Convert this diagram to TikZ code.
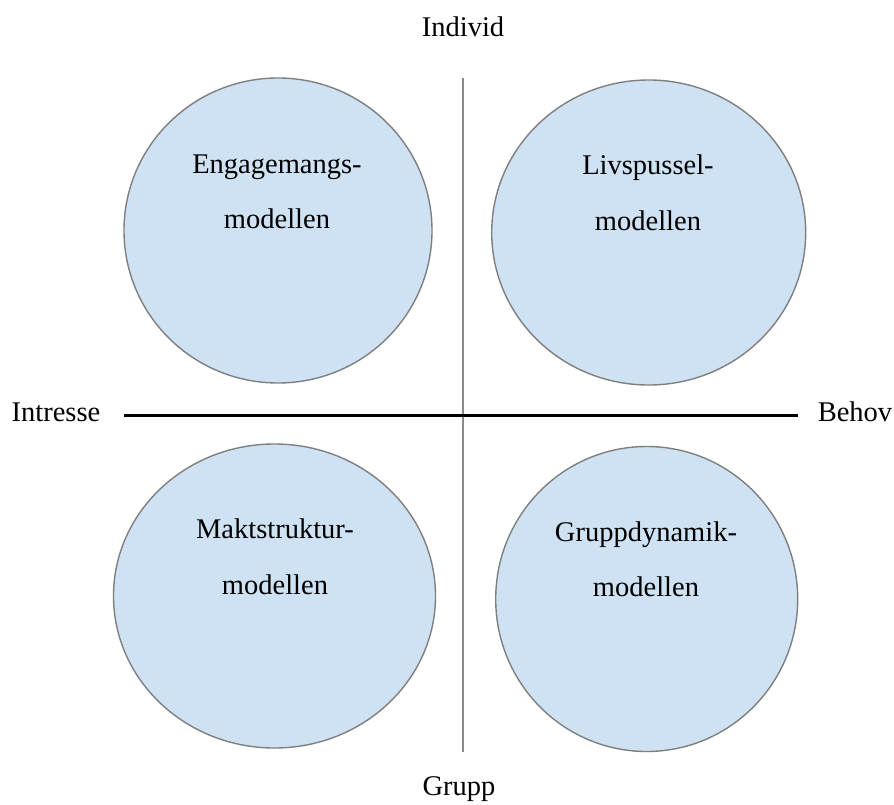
\documentclass[tikz,border=0pt]{standalone}
\usepackage{fontspec}
\setmainfont{LiberationSerif}[Extension=.ttf,UprightFont=*-Regular,BoldFont=*-Bold]
\definecolor{bubblefill}{HTML}{CFE2F3}
\definecolor{bubbleline}{HTML}{7F7F7F}
\definecolor{axisgrey}{HTML}{8A8A8A}
\begin{document}
\begin{tikzpicture}[x=1pt,y=-1pt,
  bubble/.style={draw=bubbleline,fill=bubblefill,line width=1.4pt},
  txt/.style={font=\fontsize{28.5}{34}\selectfont,anchor=base,inner sep=0pt}]
\useasboundingbox (0,0) rectangle (894,805);
% quadrant bubbles
\draw[bubble] (278,230.5) ellipse [x radius=154,y radius=152.5];
\draw[bubble] (648.7,232.5) ellipse [x radius=157,y radius=152.5];
\draw[bubble] (274.5,596) ellipse [x radius=161,y radius=152];
\draw[bubble] (646.7,599) ellipse [x radius=151,y radius=152.5];
% axes
\coordinate (top) at (463,78);
\coordinate (bottom) at (463,752);
\coordinate (left) at (124,415.5);
\coordinate (right) at (798,415.5);
\draw[axisgrey,line width=1.8pt] (top) -- (bottom);
\draw[black,line width=2.2pt] (left) -- (right);
% axis labels
\node[txt] (individ) at (463,37) {Individ};
\node[txt] (grupp) at (459,795) {Grupp};
\node[txt] (intresse) at (56,421) {Intresse};
\node[txt] (behov) at (855,421) {Behov};
% bubble texts
\node[txt] (e1) at (277,173.5) {Engagemangs-};
\node[txt] (e2) at (277,228.5) {modellen};
\node[txt] (l1) at (648,175) {Livspussel-};
\node[txt] (l2) at (648,230) {modellen};
\node[txt] (m1) at (275,538) {Maktstruktur-};
\node[txt] (m2) at (275,594) {modellen};
\node[txt] (g1) at (646,541.5) {Gruppdynamik-};
\node[txt] (g2) at (646,596.5) {modellen};
\end{tikzpicture}
\end{document}
